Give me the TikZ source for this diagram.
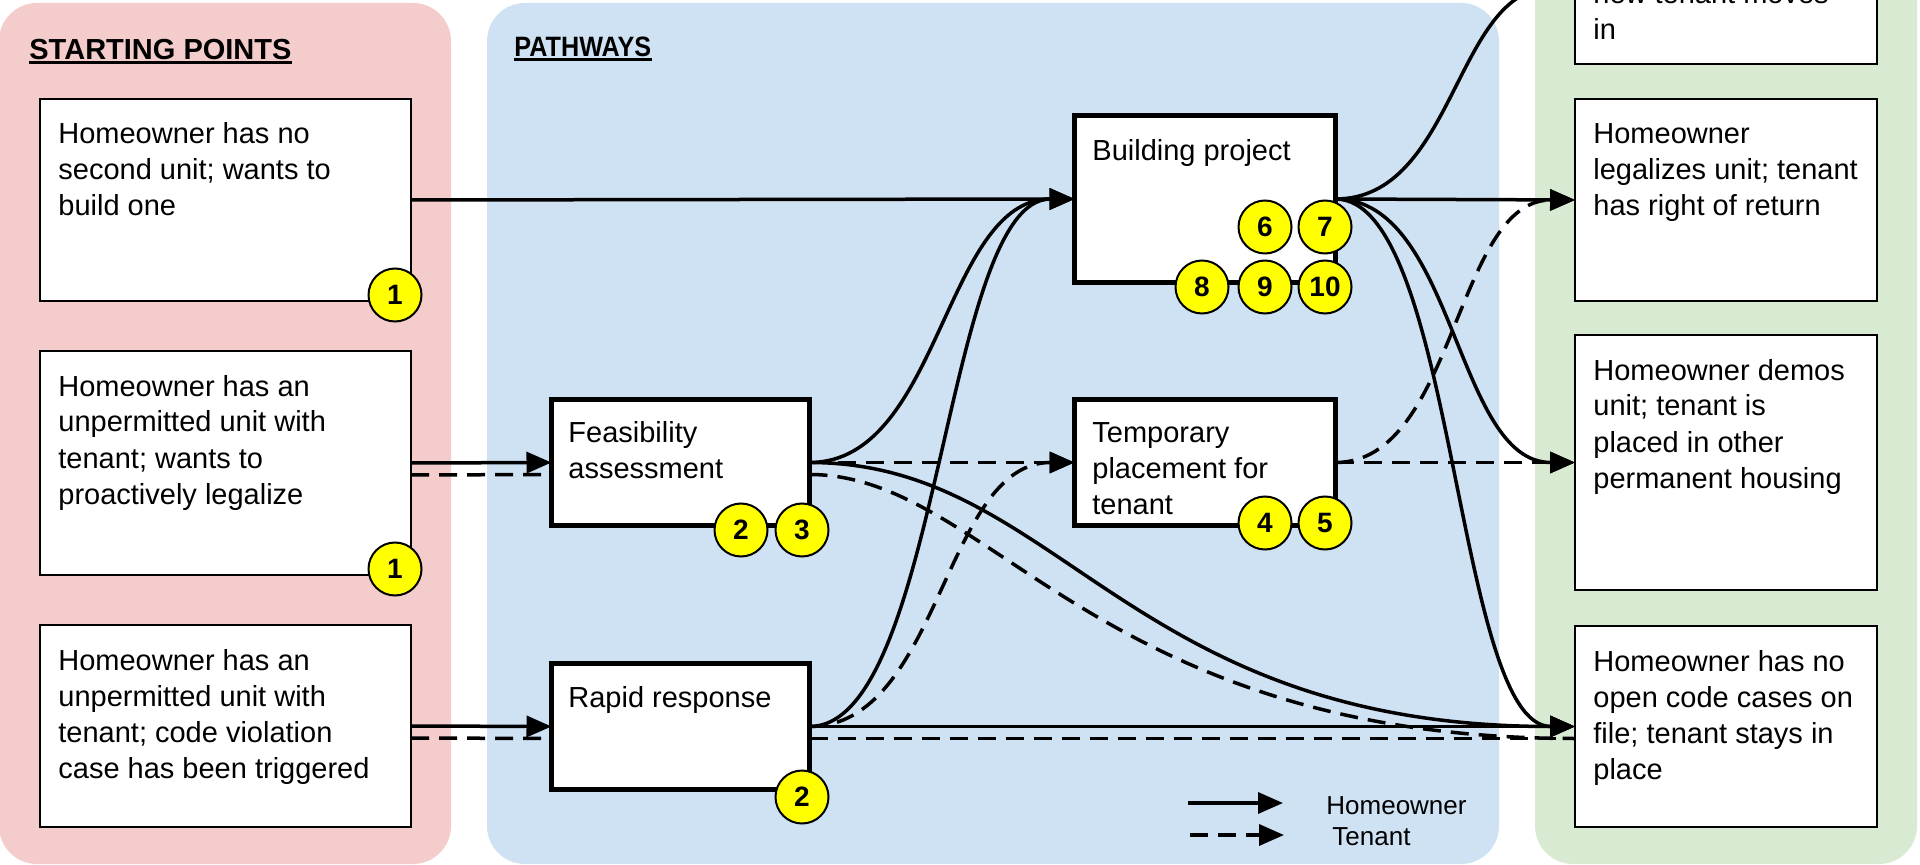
\documentclass[tikz,border=0pt]{standalone}
\usepackage{fontspec}
\setmainfont{Liberation Sans}
\usepackage{graphicx}
\usetikzlibrary{arrows.meta}
\definecolor{startpink}{HTML}{F4CCCC}
\definecolor{pathblue}{HTML}{CFE2F3}
\definecolor{endgreen}{HTML}{D9EAD3}
\definecolor{badgeyellow}{HTML}{FFFF00}
\begin{document}
\begin{tikzpicture}[x=0.5pt,y=-0.5pt,
  panel/.style={rounded corners=19pt},
  sbox/.style={draw, line width=1pt, fill=white, inner sep=0pt, outer sep=0pt, minimum width=185.5pt},
  ebox/.style={sbox, minimum width=151pt},
  pbox/.style={draw, line width=2.5pt, fill=white, inner sep=0pt, outer sep=0pt},
  badge/.style={circle, draw, line width=1pt, fill=badgeyellow, minimum size=26.5pt, inner sep=0pt,
                font=\fontsize{14}{14}\selectfont\bfseries},
  % multi-line texts are placed by the baseline of their last line
  txt/.style={anchor=base west, inner sep=0pt, align=left, font=\fontsize{14.5}{18}\selectfont},
  ttl/.style={anchor=base west, inner sep=0pt, font=\fontsize{14.5}{18}\selectfont\bfseries},
  lgd/.style={anchor=base west, inner sep=0pt, font=\fontsize{13}{16}\selectfont},
  arrowed/.style={-{Triangle[length=12.5pt,width=10.5pt]}},
  homeowner/.style={line width=1.75pt},
  tenant/.style={line width=1.75pt, dash pattern=on 9pt off 5pt},
]
\useasboundingbox (0,0) rectangle (1920,865);
\clip (0,0) rectangle (1920,865);

% column panels
\fill[startpink, panel] (-1,3) rectangle (451,864);
\fill[pathblue, panel] (487,3) rectangle (1499,864);
\fill[endgreen, panel] (1535,-200) rectangle (1917,864);

% column titles
\node[ttl] (ttlstart) at (29,60) {STARTING POINTS};
\draw[line width=1.5pt] ([yshift=-1.25pt]ttlstart.base west) -- ([yshift=-1.25pt]ttlstart.base east);
\node[ttl, font=\fontsize{14}{18}\selectfont\bfseries] (ttlpath) at (514,57) {\scalebox{0.9}[1]{PATHWAYS}};
\draw[line width=1.2pt] ([yshift=-1.25pt]ttlpath.base west) -- ([yshift=-1.25pt]ttlpath.base east);

% starting points
\node[sbox, minimum height=101pt] (s1) at (225.5,200) {};
\node[sbox, minimum height=112pt] (s2) at (225.5,463) {};
\node[sbox, minimum height=101pt] (s3) at (225.5,726) {};

% pathways
\node[pbox, minimum width=129pt, minimum height=63pt] (fa) at (680.5,462.5) {};
\node[pbox, minimum width=129pt, minimum height=63pt] (rr) at (680.5,726.5) {};
\node[pbox, minimum width=130.5pt, minimum height=83.5pt] (bp) at (1205,199) {};
\node[pbox, minimum width=130.5pt, minimum height=63pt] (tp) at (1205,462.5) {};

% end states
\node[ebox, minimum height=76.5pt] (e0) at (1726,-12) {};
\node[ebox, minimum height=101pt] (e2) at (1726,200) {};
\node[ebox, minimum height=127.5pt] (e3) at (1726,462.5) {};
\node[ebox, minimum height=100.5pt] (e4) at (1726,726.5) {};

% starting points -> pathways
\draw[homeowner,arrowed] (s1.east) -- (bp.west);
\draw[homeowner,arrowed] (s2.east) -- (fa.west);
\draw[tenant] ([yshift=-6pt]s2.east) -- ([yshift=-6pt]fa.west);
\draw[homeowner,arrowed] (s3.east) -- (rr.west);
\draw[tenant] ([yshift=-6pt]s3.east) -- ([yshift=-6pt]rr.west);

% from feasibility assessment
\draw[homeowner,arrowed] (fa.east) .. controls +(131,0) and +(-131,0) .. (bp.west);
\draw[tenant,arrowed] (fa.east) -- (tp.west);
\draw[homeowner,arrowed] (fa.east) .. controls +(250,0) and +(-450,0) .. (e4.west);
\draw[tenant] ([yshift=-6pt]fa.east) .. controls +(180,0) and +(-480,0) .. ([yshift=-6pt]e4.west);

% from rapid response
\draw[homeowner,arrowed] (rr.east) .. controls +(131,0) and +(-131,0) .. (bp.west);
\draw[tenant,arrowed] (rr.east) .. controls +(131,0) and +(-131,0) .. (tp.west);
\draw[homeowner,arrowed] (rr.east) -- (e4.west);
\draw[tenant] ([yshift=-6pt]rr.east) -- ([yshift=-6pt]e4.west);

% from building project
\draw[homeowner,arrowed] (bp.east) .. controls +(120,0) and +(-120,0) .. (e0.west);
\draw[homeowner,arrowed] (bp.east) -- (e2.west);
\draw[homeowner,arrowed] (bp.east) .. controls +(120,0) and +(-120,0) .. (e3.west);
\draw[homeowner,arrowed] (bp.east) .. controls +(120,0) and +(-120,0) .. (e4.west);

% from temporary placement
\draw[tenant,arrowed] (tp.east) .. controls +(120,0) and +(-120,0) .. (e2.west);
\draw[tenant,arrowed] (tp.east) -- (e3.west);

% box texts
\node[txt] (s1t) at (58,216) {Homeowner has no\\second unit; wants to\\build one};
\node[txt] (s2t) at (58,504) {Homeowner has an\\unpermitted unit with\\tenant; wants to\\proactively legalize};
\node[txt] (s3t) at (58,778) {Homeowner has an\\unpermitted unit with\\tenant; code violation\\case has been triggered};
\node[txt] (fat) at (568,479) {Feasibility\\assessment};
\node[txt] (rrt) at (568,707) {Rapid response};
\node[txt] (bpt) at (1092,161) {Building project};
\node[txt] (tpt) at (1092,515) {Temporary\\placement for\\tenant};
\node[txt] (e0t) at (1593,39.5) {new tenant moves\\in};
\node[txt] (e2t) at (1593,216) {Homeowner\\legalizes unit; tenant\\has right of return};
\node[txt] (e3t) at (1593,488) {Homeowner demos\\unit; tenant is\\placed in other\\permanent housing};
\node[txt] (e4t) at (1593,779) {Homeowner has no\\open code cases on\\file; tenant stays in\\place};

% numbered markers
\node[badge] (n1a) at (395,295) {1};
\node[badge] (n1b) at (395,569) {1};
\node[badge] (n2a) at (741,530) {2};
\node[badge] (n3) at (802,530) {3};
\node[badge] (n2b) at (802,797) {2};
\node[badge] (n4) at (1265,523) {4};
\node[badge] (n5) at (1325,523) {5};
\node[badge] (n6) at (1265,227) {6};
\node[badge] (n7) at (1325,227) {7};
\node[badge] (n8) at (1202,287) {8};
\node[badge] (n9) at (1265,287) {9};
\node[badge] (n10) at (1325,287) {10};

% legend
\coordinate (lgHa) at (1188,803);
\coordinate (lgHb) at (1283,803);
\coordinate (lgTa) at (1190,835);
\coordinate (lgTb) at (1284,835);
\draw[homeowner,arrowed] (lgHa) -- (lgHb);
\draw[tenant,arrowed] (lgTa) -- (lgTb);
\node[lgd] (lgH) at (1326,814) {Homeowner};
\node[lgd] (lgT) at (1332,845) {Tenant};
\end{tikzpicture}
\end{document}
